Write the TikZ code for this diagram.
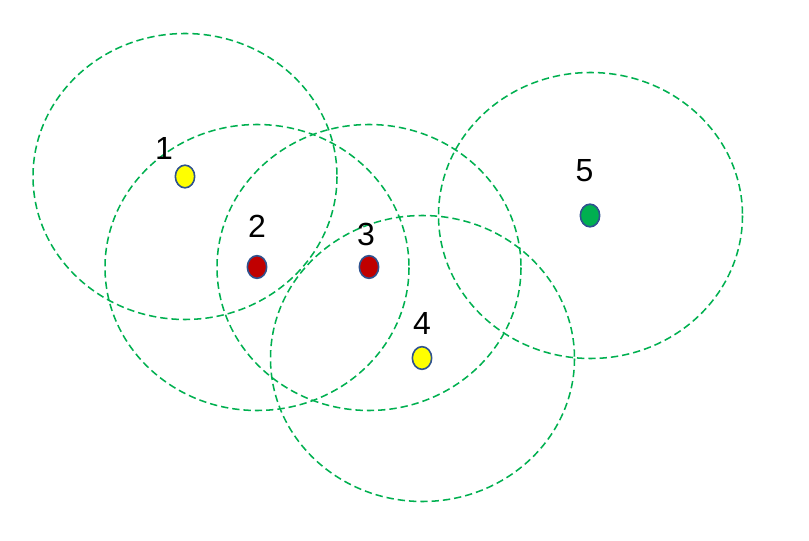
\documentclass[tikz,border=0pt]{standalone}
\usepackage{fontspec}
\setmainfont{Liberation Sans}
\usetikzlibrary{shapes.geometric}
\definecolor{rng}{RGB}{0,176,80}
\definecolor{dotedge}{RGB}{47,82,143}
\definecolor{dyel}{RGB}{255,255,0}
\definecolor{dred}{RGB}{192,0,0}
\definecolor{dgrn}{RGB}{0,176,80}
\begin{document}
\begin{tikzpicture}[x=0.75pt,y=-0.75pt,
  rangecirc/.style={draw=rng,line width=1.15pt,dash pattern=on 5.5pt off 3pt},
  sensor/.style={ellipse,draw=dotedge,line width=1.2pt,minimum width=14.5pt,minimum height=17pt,inner sep=0pt},
  lab/.style={font=\fontsize{24}{24}\selectfont,inner sep=0pt}]
\useasboundingbox[fill=white] (0,0) rectangle (809,541);
\draw[rangecirc] (185,176.5) ellipse [x radius=152,y radius=143];
\draw[rangecirc] (257,267.5) ellipse [x radius=152,y radius=143];
\draw[rangecirc] (369,267.5) ellipse [x radius=152,y radius=143];
\draw[rangecirc] (422.5,358.5) ellipse [x radius=152,y radius=143];
\draw[rangecirc] (590.5,215.5) ellipse [x radius=152,y radius=143];
\node[sensor,fill=dyel] (s1) at (185,176.5) {};
\node[sensor,fill=dred] (s2) at (257,267) {};
\node[sensor,fill=dred] (s3) at (369,267) {};
\node[sensor,fill=dyel] (s4) at (422,358) {};
\node[sensor,fill=dgrn] (s5) at (590,215.5) {};
\node[lab] (l1) at (164,148.5) {1};
\node[lab] (l2) at (257,226) {2};
\node[lab] (l3) at (366,234) {3};
\node[lab] (l4) at (422,323) {4};
\node[lab] (l5) at (584.5,170.5) {5};
\end{tikzpicture}
\end{document}
